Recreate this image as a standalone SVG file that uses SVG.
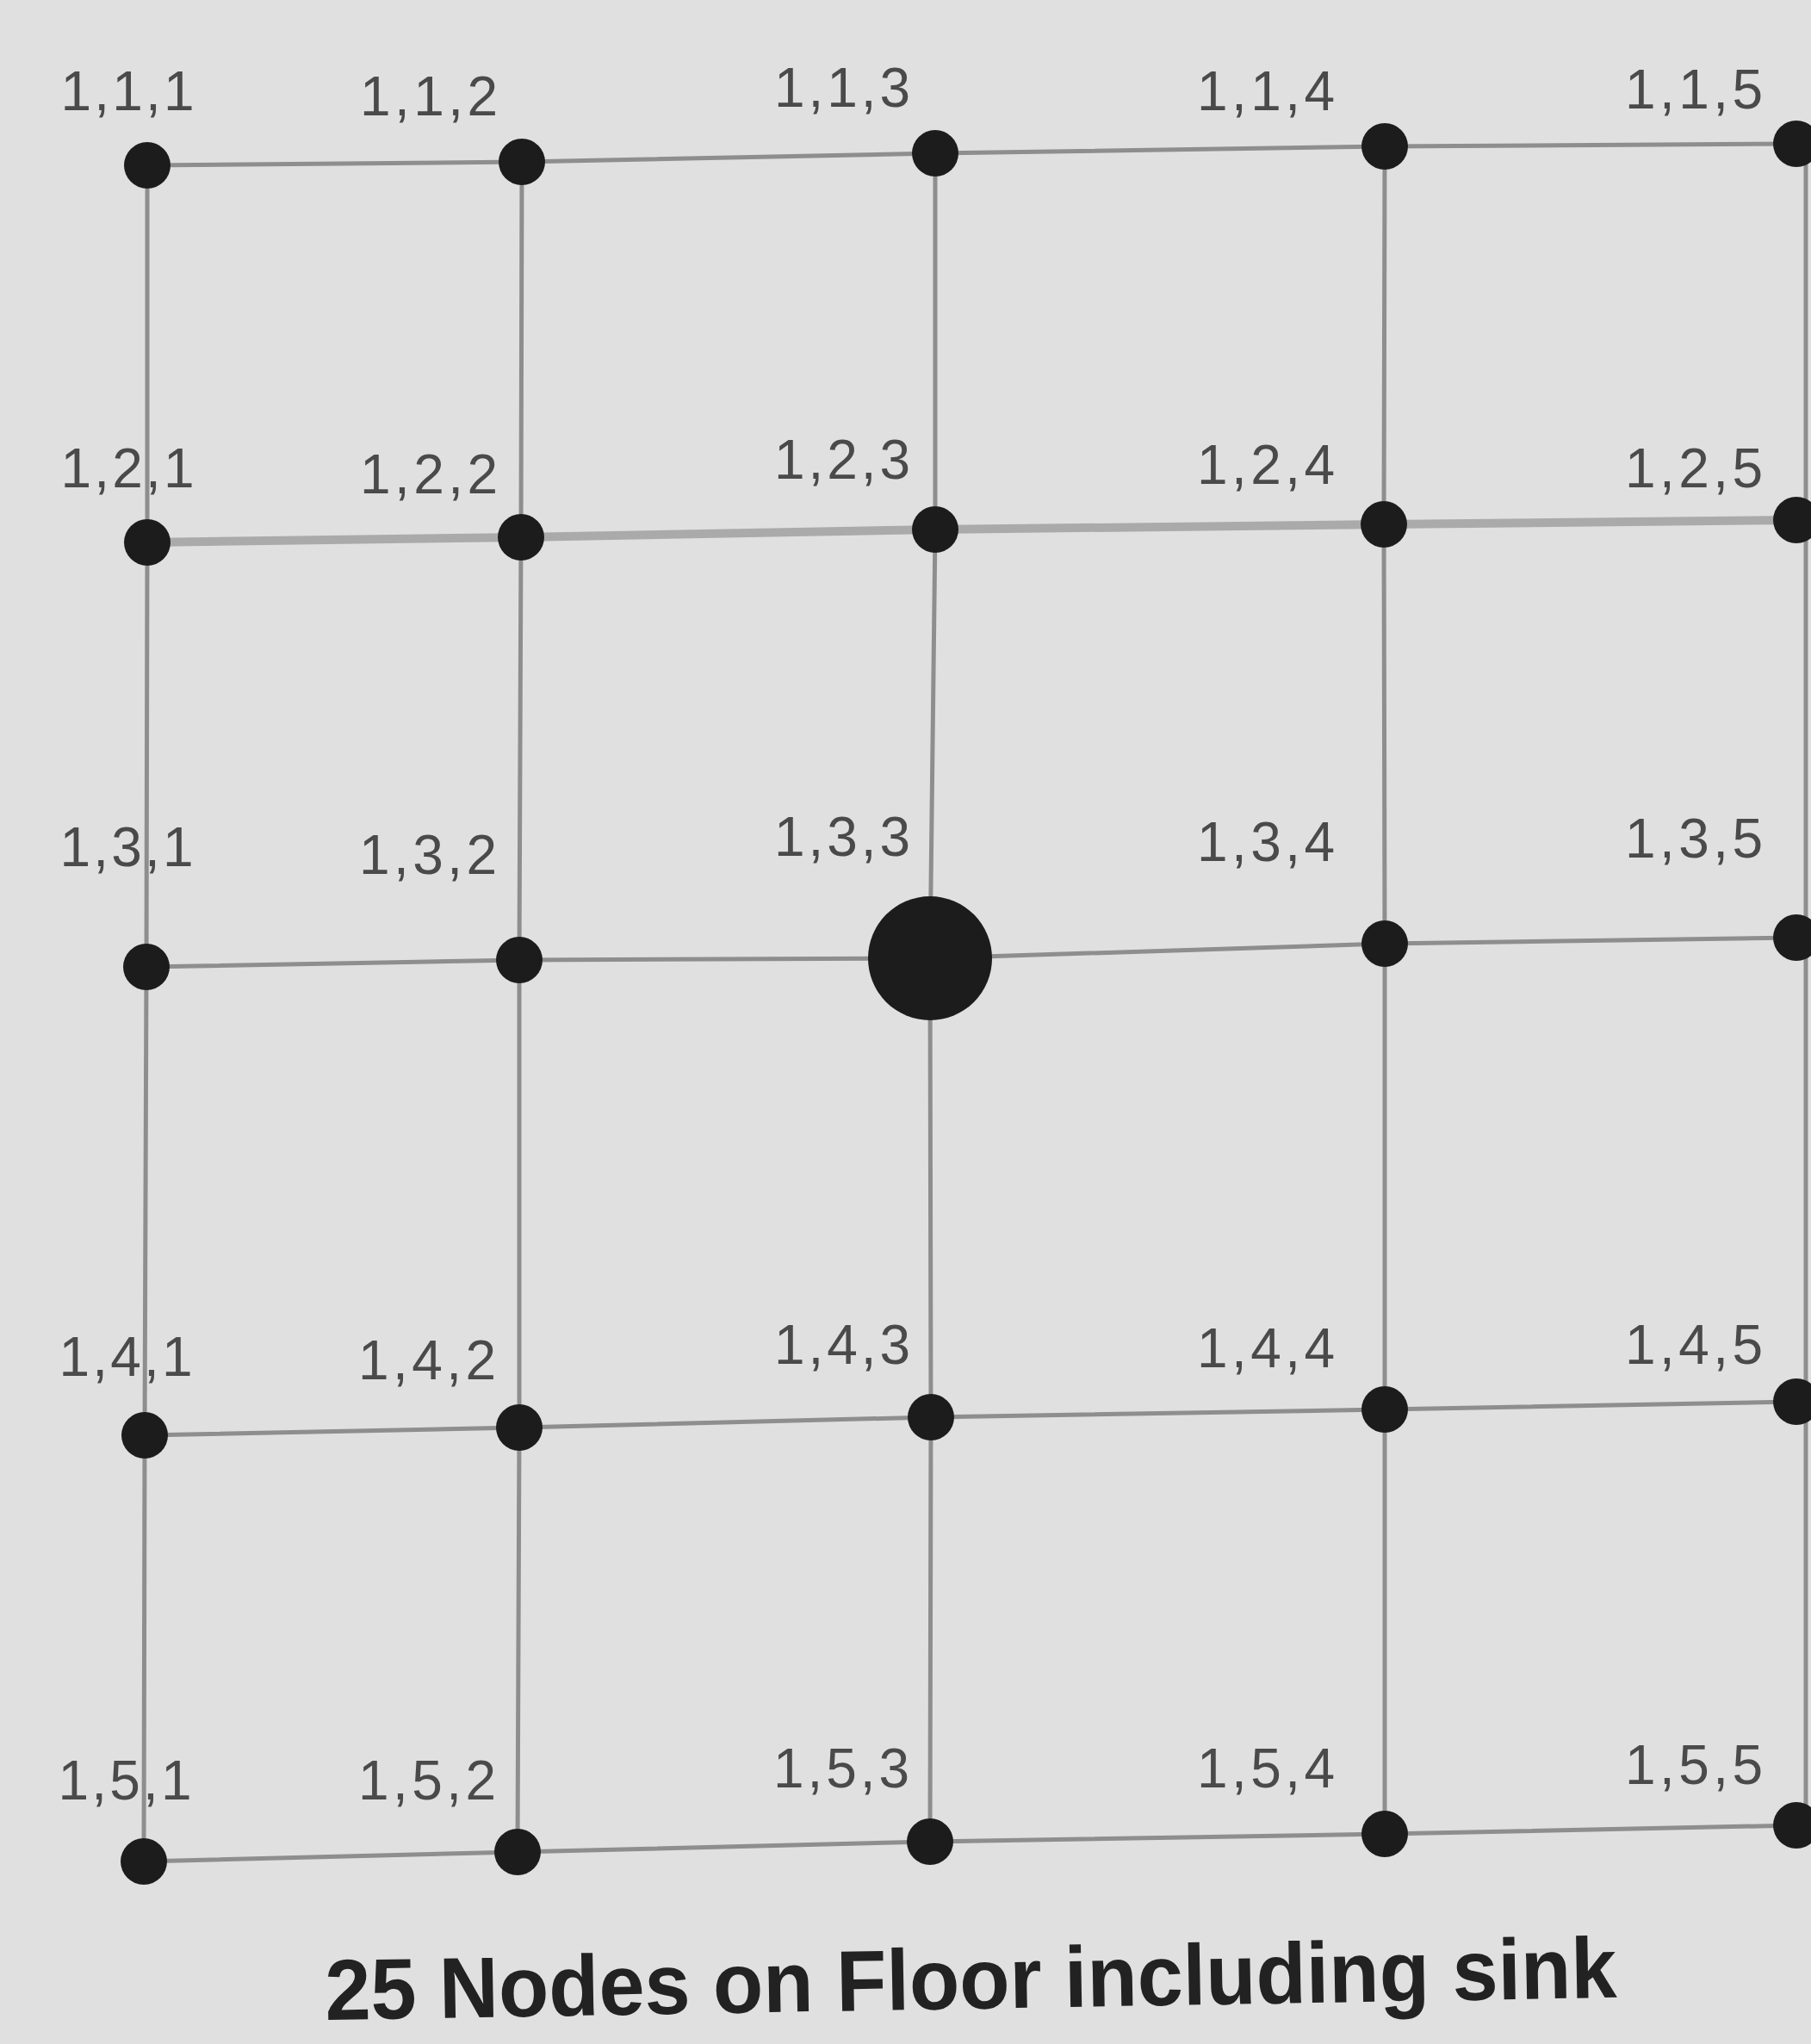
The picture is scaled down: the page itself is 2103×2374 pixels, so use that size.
<svg xmlns="http://www.w3.org/2000/svg" width="2103" height="2374" viewBox="0 0 2103 2374">
<style>
.bg{fill:#e0e0e0}
.ln{fill:none;stroke:#8e8e8e;stroke-width:5}
.ln2{fill:none;stroke:#aaaaaa;stroke-width:10}
.nd{fill:#1c1c1c}
.lb{font-family:"Liberation Sans",Arial,sans-serif;font-size:64px;fill:#4a4a4a;text-anchor:middle}
.cap{font-family:"Liberation Sans",Arial,sans-serif;font-size:100px;font-weight:bold;fill:#222222}
</style>
<rect class="bg" x="0" y="0" width="2103" height="2374"/>
<g id="connectors">
<polyline class="ln" points="171,192 606,188 1086,178 1608,170 2086,167 2103,167"/>
<polyline class="ln2" points="171,630 605,624 1086,615 1607,609 2086,604 2103,604"/>
<polyline class="ln" points="170,1123 603,1115 1080,1113 1608,1096 2086,1089 2103,1089"/>
<polyline class="ln" points="168,1667 603,1658 1081,1646 1608,1637 2086,1628 2103,1628"/>
<polyline class="ln" points="167,2162 601,2151 1080,2139 1608,2130 2086,2120 2103,2120"/>
<polyline class="ln" points="171,192 171,630 170,1123 168,1667 167,2162"/>
<polyline class="ln" points="606,188 605,624 603,1115 603,1658 601,2151"/>
<polyline class="ln" points="1086,178 1086,615 1080,1113 1081,1646 1080,2139"/>
<polyline class="ln" points="1608,170 1607,609 1608,1096 1608,1637 1608,2130"/>
<polyline class="ln" points="2097,167 2097,2120"/>
</g>
<g id="n111"><circle class="nd" cx="171" cy="192" r="27"/><text class="lb" x="148" y="128" textLength="155" lengthAdjust="spacing">1,1,1</text></g>
<g id="n112"><circle class="nd" cx="606" cy="188" r="27"/><text class="lb" x="498" y="134" textLength="160" lengthAdjust="spacing">1,1,2</text></g>
<g id="n113"><circle class="nd" cx="1086" cy="178" r="27"/><text class="lb" x="978" y="124" textLength="158" lengthAdjust="spacing">1,1,3</text></g>
<g id="n114"><circle class="nd" cx="1608" cy="170" r="27"/><text class="lb" x="1470" y="128" textLength="160" lengthAdjust="spacing">1,1,4</text></g>
<g id="n115"><circle class="nd" cx="2086" cy="167" r="27"/><text class="lb" x="1967" y="126" textLength="160" lengthAdjust="spacing">1,1,5</text></g>
<g id="n121"><circle class="nd" cx="171" cy="630" r="27"/><text class="lb" x="148" y="566" textLength="155" lengthAdjust="spacing">1,2,1</text></g>
<g id="n122"><circle class="nd" cx="605" cy="624" r="27"/><text class="lb" x="498" y="573" textLength="160" lengthAdjust="spacing">1,2,2</text></g>
<g id="n123"><circle class="nd" cx="1086" cy="615" r="27"/><text class="lb" x="978" y="556" textLength="158" lengthAdjust="spacing">1,2,3</text></g>
<g id="n124"><circle class="nd" cx="1607" cy="609" r="27"/><text class="lb" x="1470" y="562" textLength="160" lengthAdjust="spacing">1,2,4</text></g>
<g id="n125"><circle class="nd" cx="2086" cy="604" r="27"/><text class="lb" x="1967" y="566" textLength="160" lengthAdjust="spacing">1,2,5</text></g>
<g id="n131"><circle class="nd" cx="170" cy="1123" r="27"/><text class="lb" x="147" y="1006" textLength="155" lengthAdjust="spacing">1,3,1</text></g>
<g id="n132"><circle class="nd" cx="603" cy="1115" r="27"/><text class="lb" x="497" y="1015" textLength="160" lengthAdjust="spacing">1,3,2</text></g>
<g id="n133"><circle class="nd" cx="1080" cy="1113" r="72"/><text class="lb" x="978" y="994" textLength="158" lengthAdjust="spacing">1,3,3</text></g>
<g id="n134"><circle class="nd" cx="1608" cy="1096" r="27"/><text class="lb" x="1470" y="1000" textLength="160" lengthAdjust="spacing">1,3,4</text></g>
<g id="n135"><circle class="nd" cx="2086" cy="1089" r="27"/><text class="lb" x="1967" y="996" textLength="160" lengthAdjust="spacing">1,3,5</text></g>
<g id="n141"><circle class="nd" cx="168" cy="1667" r="27"/><text class="lb" x="146" y="1598" textLength="155" lengthAdjust="spacing">1,4,1</text></g>
<g id="n142"><circle class="nd" cx="603" cy="1658" r="27"/><text class="lb" x="496" y="1602" textLength="160" lengthAdjust="spacing">1,4,2</text></g>
<g id="n143"><circle class="nd" cx="1081" cy="1646" r="27"/><text class="lb" x="978" y="1584" textLength="158" lengthAdjust="spacing">1,4,3</text></g>
<g id="n144"><circle class="nd" cx="1608" cy="1637" r="27"/><text class="lb" x="1470" y="1588" textLength="160" lengthAdjust="spacing">1,4,4</text></g>
<g id="n145"><circle class="nd" cx="2086" cy="1628" r="27"/><text class="lb" x="1967" y="1584" textLength="160" lengthAdjust="spacing">1,4,5</text></g>
<g id="n151"><circle class="nd" cx="167" cy="2162" r="27"/><text class="lb" x="145" y="2090" textLength="155" lengthAdjust="spacing">1,5,1</text></g>
<g id="n152"><circle class="nd" cx="601" cy="2151" r="27"/><text class="lb" x="496" y="2090" textLength="160" lengthAdjust="spacing">1,5,2</text></g>
<g id="n153"><circle class="nd" cx="1080" cy="2139" r="27"/><text class="lb" x="977" y="2076" textLength="158" lengthAdjust="spacing">1,5,3</text></g>
<g id="n154"><circle class="nd" cx="1608" cy="2130" r="27"/><text class="lb" x="1470" y="2076" textLength="160" lengthAdjust="spacing">1,5,4</text></g>
<g id="n155"><circle class="nd" cx="2086" cy="2120" r="27"/><text class="lb" x="1967" y="2072" textLength="160" lengthAdjust="spacing">1,5,5</text></g>
<text class="cap" x="378" y="2346" textLength="1500" lengthAdjust="spacingAndGlyphs" transform="rotate(-1 378 2346)">25 Nodes on Floor including sink</text>
</svg>
